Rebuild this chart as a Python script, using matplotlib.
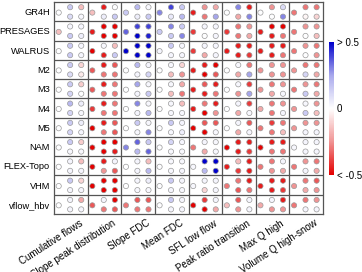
import matplotlib
matplotlib.use("Agg")
import matplotlib.pyplot as plt
import matplotlib.transforms as mtransforms
import numpy as np
from matplotlib.colors import LinearSegmentedColormap

plt.rcParams['font.family'] = ['Liberation Sans', 'DejaVu Sans']

models = ["GR4H", "PRESAGES", "WALRUS", "M2", "M3", "M4", "M5", "NAM",
          "FLEX-Topo", "VHM", "vflow_hbv"]
signatures = ["Cumulative flows", "Slope peak distribution", "Slope FDC",
              "Mean FDC", "SFL low flow", "Peak ratio transition",
              "Max Q high", "Volume Q high-snow"]

# each column: [left, top-left, top-right, bottom-left, bottom-right]
gr4h = [[0, .15, -.15, .1, .02], [-.15, -.45, 0, .05, .15], [.15, .2, .02, .05, .15],
        [.3, .4, .15, .06, .2], [-.45, -.25, -.2, -.3, .25], [0, .3, -.45, -.2, .3],
        [0, -.25, .1, 0, .3], [-.3, -.3, -.3, -.02, -.1]]
presages = [[-.15, .03, .03, .15, .05], [-.45, -.5, -.5, -.5, -.5], [.35, .4, .4, .5, .45],
            [.15, .3, .15, .15, .3], [-.4, .03, .03, 0, .03], [-.4, -.3, -.25, -.3, -.2],
            [-.45, -.5, -.5, -.45, -.3], [-.3, -.25, -.25, 0, -.15]]
walrus = [[0, .15, .03, .15, .03], [-.5, .02, -.15, -.45, .15], [.5, .5, .5, .5, .5],
          [.03, .15, .03, .03, .03], [-.4, .03, .03, -.2, .03], [-.45, -.45, -.45, -.45, -.4],
          [-.45, -.45, -.45, -.45, -.3], [-.3, -.25, -.3, 0, -.25]]
m2 = [[0, .15, -.1, .1, -.05], [-.35, -.45, -.35, -.3, -.3], [0, .2, .03, .03, .12],
      [0, .02, -.1, -.15, -.25], [-.45, -.45, -.5, -.5, -.35], [0, .02, -.3, -.2, .25],
      [-.25, -.25, -.25, -.25, -.25], [-.25, -.3, -.3, .12, -.2]]
m3 = [[0, .15, -.12, .12, 0], [-.35, -.45, -.3, -.3, -.3], [0, .25, .02, .03, .15],
      [0, .02, -.2, -.15, -.3], [-.45, -.35, -.45, -.45, -.3], [0, .02, -.4, -.25, .25],
      [-.25, -.3, -.25, -.2, .02], [-.3, -.25, -.3, .15, -.2]]
m4 = [[0, .2, .05, .12, .02], [-.4, -.45, -.3, -.3, -.3], [0, .3, .02, .03, .2],
      [0, .02, -.15, .02, .02], [-.45, -.3, -.45, -.5, -.25], [0, .03, -.4, -.2, .02],
      [-.2, -.3, -.25, -.3, .03], [-.25, .02, -.25, .15, -.15]]
m5 = [[0, .15, .05, .12, .03], [-.5, -.45, -.35, -.3, -.35], [0, .15, .02, .02, .3],
      [0, .15, .03, .02, .05], [-.5, -.35, -.35, -.5, .02], [0, .03, -.35, -.2, .03],
      [-.3, -.4, -.3, -.3, -.15], [-.25, -.25, -.25, .03, .03]]
nam = [[0, .15, -.12, .02, .02], [-.5, -.5, -.5, -.5, -.45], [.3, .35, .15, .2, .35],
       [0, .12, .03, .02, .02], [-.3, .03, .02, -.2, .02], [-.5, -.45, -.45, -.45, -.4],
       [-.5, -.45, -.45, -.3, -.3], [.02, .03, .03, .03, .03]]
flex_topo = [[0, .03, -.15, .03, .03], [-.5, -.45, .03, -.25, -.35], [0, .03, -.15, .03, .2],
             [0, .02, .02, .02, .03], [.02, .5, .5, .2, .5], [-.45, -.15, -.45, -.4, -.45],
             [-.3, -.3, .03, -.25, -.2], [-.3, -.25, -.3, .03, -.2]]
vhm = [[0, .15, -.1, .03, .03], [-.5, -.5, -.5, -.5, -.5], [0, .03, .05, .02, .02],
       [0, .15, .03, .03, .02], [.02, .03, .03, -.1, .03], [-.3, -.3, -.45, -.35, -.3],
       [-.45, -.45, -.45, -.45, -.4], [-.25, -.3, -.35, -.2, -.25]]
vflow_hbv = [[0, .03, -.2, .03, .03], [-.35, .03, -.5, -.3, -.35], [-.3, -.35, -.35, -.3, -.3],
             [0, .15, .03, .03, .03], [-.5, -.4, .03, -.5, -.2], [-.15, -.35, .03, -.25, .03],
             [-.2, .03, -.45, -.25, -.25], [-.3, -.3, -.25, .03, .03]]

all_rows = [gr4h, presages, walrus, m2, m3, m4, m5, nam, flex_topo, vhm, vflow_hbv]

cmap = LinearSegmentedColormap.from_list(
    "rwb", [(0.0, "#E40000"), (0.25, "#F09494"), (0.5, "#FFFFFF"),
            (0.75, "#A8A8EC"), (1.0, "#0000CC")])

fig = plt.figure(figsize=(3.62, 2.72), dpi=100)
ax = fig.add_axes([54/362, 1-214/272, 269/362, 212/272])

# dot offsets within a cell (x fraction, y fraction from top)
offs = [(0.14, 0.55), (0.48, 0.27), (0.81, 0.27), (0.48, 0.76), (0.81, 0.76)]

xs, ys, vs = [], [], []
for r, row in enumerate(all_rows):
    for c, cell in enumerate(row):
        for k, v in enumerate(cell):
            ox, oy = offs[k]
            xs.append(c + ox)
            ys.append(r + oy)
            vs.append(v)

sc = ax.scatter(xs, ys, c=vs, cmap=cmap, vmin=-0.5, vmax=0.5, s=14,
                edgecolors="#9a9a9a", linewidths=0.5, zorder=3)

ax.set_xlim(0, len(signatures))
ax.set_ylim(len(models), 0)
for i in range(1, len(signatures)):
    ax.axvline(i, color="#555555", lw=0.9, zorder=1)
for j in range(1, len(models)):
    ax.axhline(j, color="#555555", lw=0.9, zorder=1)
for sp in ax.spines.values():
    sp.set_color("#555555")
    sp.set_linewidth(0.9)

ax.set_yticks(np.arange(len(models)) + 0.5)
ax.set_yticklabels(models, fontsize=6.7)
ax.set_xticks(np.arange(len(signatures)) + 0.5)
ax.set_xticklabels(signatures, fontsize=7, rotation=33, ha="right",
                   rotation_mode="anchor")
ax.tick_params(axis="y", length=0, pad=3)
ax.tick_params(axis="x", length=0, pad=3)
offset = mtransforms.ScaledTranslation(8/100, 0, fig.dpi_scale_trans)
for lab in ax.get_xticklabels():
    lab.set_transform(lab.get_transform() + offset)

cax = fig.add_axes([329/362, 1-175/272, 5/362, 133/272])
cb = fig.colorbar(sc, cax=cax)
cb.outline.set_visible(False)
cb.set_ticks([-0.5, 0, 0.5])
cb.set_ticklabels(["< -0.5", "0", "> 0.5"])
cb.ax.tick_params(length=0, labelsize=7, pad=2)

fig.savefig("out.png", dpi=100)
